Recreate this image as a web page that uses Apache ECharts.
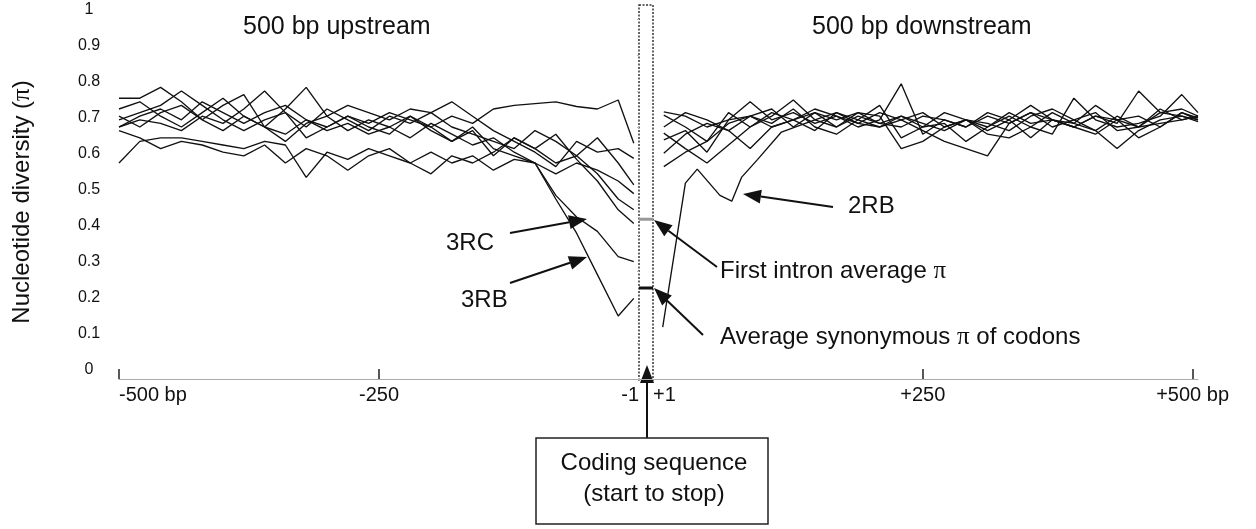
<!DOCTYPE html>
<html>
<head>
<meta charset="utf-8">
<script src="https://cdn.jsdelivr.net/npm/echarts@6/dist/echarts.min.js"></script>
<style>
html, body { margin: 0; padding: 0; background: #fff; }
#main { width: 1256px; height: 529px; }
</style>
</head>
<body>
<div id="main"></div>
<script>
// positions (bp) of the sliding windows
var upX = [-500, -480, -460, -440, -420, -400, -380, -360, -340, -320, -300, -280, -260,
  -240, -220, -200, -180, -160, -140, -120, -100, -80, -60, -40, -20, -5]
var downX = [10, 30, 50, 70, 90, 110, 130, 150, 170, 190, 210, 230, 250, 270, 290, 310,
  330, 350, 370, 390, 410, 430, 450, 470, 490, 505]
var rb2X = [9, 30, 41, 62, 73, 82, 97, 119, 150, 170, 190, 210, 230, 250, 270, 290, 310,
  330, 350, 370, 390, 410, 430, 450, 470, 490, 505]

// upstream pi per gene
var upTop = [0.70, 0.73, 0.75, 0.72, 0.77, 0.74, 0.71, 0.74, 0.76, 0.72, 0.70, 0.73, 0.71,
  0.74, 0.72, 0.70, 0.73, 0.71, 0.75, 0.76, 0.765, 0.77, 0.757, 0.75, 0.775, 0.655]
var up3RC = [0.73, 0.70, 0.74, 0.76, 0.72, 0.69, 0.73, 0.70, 0.68, 0.72, 0.69, 0.71, 0.68,
  0.70, 0.67, 0.71, 0.68, 0.65, 0.67, 0.63, 0.60, 0.51, 0.45, 0.41, 0.34, 0.326]
var up3RB = [0.75, 0.77, 0.73, 0.70, 0.74, 0.78, 0.73, 0.70, 0.66, 0.71, 0.73, 0.69, 0.72,
  0.70, 0.73, 0.69, 0.66, 0.70, 0.64, 0.62, 0.60, 0.50, 0.405, 0.29, 0.175, 0.224]
var upA = [0.60, 0.66, 0.67, 0.67, 0.66, 0.65, 0.64, 0.66, 0.65, 0.56, 0.63, 0.61, 0.64,
  0.62, 0.60, 0.63, 0.60, 0.62, 0.58, 0.61, 0.60, 0.57, 0.60, 0.58, 0.55, 0.515]
var upB = [0.69, 0.67, 0.64, 0.66, 0.65, 0.63, 0.62, 0.65, 0.60, 0.64, 0.62, 0.58, 0.62,
  0.64, 0.60, 0.57, 0.62, 0.60, 0.63, 0.67, 0.64, 0.60, 0.62, 0.57, 0.50, 0.47]
var upC = [0.78, 0.78, 0.81, 0.77, 0.72, 0.76, 0.79, 0.70, 0.75, 0.81, 0.73, 0.76, 0.74,
  0.72, 0.75, 0.74, 0.77, 0.73, 0.69, 0.66, 0.63, 0.59, 0.66, 0.63, 0.64, 0.613]
var upD = [0.72, 0.74, 0.76, 0.80, 0.76, 0.72, 0.69, 0.72, 0.74, 0.70, 0.75, 0.72, 0.69,
  0.73, 0.71, 0.74, 0.70, 0.68, 0.66, 0.64, 0.69, 0.66, 0.62, 0.67, 0.60, 0.539]
var upE = [0.70, 0.72, 0.71, 0.69, 0.73, 0.71, 0.75, 0.80, 0.74, 0.67, 0.70, 0.73, 0.70,
  0.68, 0.73, 0.70, 0.66, 0.69, 0.62, 0.67, 0.64, 0.68, 0.61, 0.55, 0.47, 0.432]

// downstream pi per gene
var downA = [0.742, 0.73, 0.70, 0.72, 0.77, 0.72, 0.74, 0.71, 0.73, 0.70, 0.72, 0.82, 0.68,
  0.72, 0.70, 0.73, 0.71, 0.74, 0.70, 0.72, 0.69, 0.73, 0.70, 0.74, 0.73, 0.72]
var downB = [0.733, 0.70, 0.66, 0.74, 0.70, 0.73, 0.775, 0.72, 0.70, 0.74, 0.71, 0.73, 0.70,
  0.74, 0.72, 0.69, 0.72, 0.76, 0.72, 0.70, 0.73, 0.71, 0.80, 0.74, 0.75, 0.73]
var downC = [0.70, 0.74, 0.72, 0.69, 0.73, 0.71, 0.75, 0.70, 0.68, 0.72, 0.76, 0.67, 0.70,
  0.71, 0.66, 0.70, 0.73, 0.70, 0.68, 0.78, 0.72, 0.70, 0.71, 0.73, 0.79, 0.74]
var downD = [0.683, 0.64, 0.60, 0.65, 0.70, 0.74, 0.72, 0.75, 0.73, 0.71, 0.74, 0.72, 0.74,
  0.70, 0.72, 0.68, 0.67, 0.70, 0.74, 0.71, 0.76, 0.72, 0.67, 0.70, 0.74, 0.72]
var downE = [0.664, 0.69, 0.63, 0.72, 0.73, 0.70, 0.72, 0.74, 0.70, 0.73, 0.71, 0.70, 0.73,
  0.72, 0.70, 0.74, 0.72, 0.67, 0.72, 0.71, 0.69, 0.64, 0.69, 0.72, 0.73, 0.715]
var downF = [0.627, 0.68, 0.71, 0.69, 0.64, 0.70, 0.72, 0.69, 0.74, 0.72, 0.70, 0.72, 0.69,
  0.66, 0.64, 0.62, 0.71, 0.74, 0.72, 0.70, 0.68, 0.72, 0.73, 0.70, 0.74, 0.725]
var downG = [0.59, 0.63, 0.66, 0.71, 0.73, 0.75, 0.70, 0.74, 0.72, 0.74, 0.73, 0.64, 0.66,
  0.70, 0.72, 0.71, 0.69, 0.73, 0.75, 0.72, 0.74, 0.69, 0.70, 0.75, 0.72, 0.73]
var down2RB = [0.144, 0.544, 0.583, 0.51, 0.494, 0.56, 0.61, 0.686, 0.72, 0.74, 0.71, 0.70,
  0.73, 0.71, 0.69, 0.72, 0.70, 0.74, 0.71, 0.72, 0.70, 0.73, 0.72, 0.70, 0.71, 0.72, 0.73]

// averages inside the coding sequence
var intronAvg = 0.444
var synonymousAvg = 0.253

// tick labels
var yTickLabels = ['0', '0.1', '0.2', '0.3', '0.4', '0.5', '0.6', '0.7', '0.8', '0.9', '1']
var upTicks = [-500, -250, 0]
var upTickLabels = ['-500 bp', '-250', '-1']
var downTicks = [0, 250, 500]
var downTickLabels = ['+1', '+250', '+500 bp']

var FONT = '"Liberation Sans", Arial, sans-serif'
var INK = '#111'

function lineSeries(xs, ys, axis) {
  return {
    type: 'line',
    xAxisIndex: axis,
    yAxisIndex: axis,
    data: xs.map(function (x, i) { return [x, ys[i]] }),
    symbol: 'none',
    lineStyle: { color: INK, width: 1.35 },
    silent: true,
    animation: false
  }
}

function barSeries(v, color) {
  return {
    type: 'line',
    xAxisIndex: 2,
    yAxisIndex: 2,
    data: [[0, v], [1, v]],
    symbol: 'none',
    lineStyle: { color: color, width: 3 },
    silent: true,
    animation: false
  }
}

/** arrow = shaft + filled head */
function arrow(x1, y1, x2, y2) {
  var a = Math.atan2(y2 - y1, x2 - x1)
  var L = 18, W = 7
  var bx = x2 - L * Math.cos(a), by = y2 - L * Math.sin(a)
  var px = -Math.sin(a) * W, py = Math.cos(a) * W
  return [
    { type: 'line', shape: { x1: x1, y1: y1, x2: bx, y2: by }, style: { stroke: '#111', lineWidth: 2 } },
    { type: 'polygon', shape: { points: [[x2, y2], [bx + px, by + py], [bx - px, by - py]] }, style: { fill: '#111' } }
  ]
}

function text(x, y, str, align, size, rich) {
  return {
    type: 'text', x: x, y: y,
    style: {
      text: str, fill: '#111', font: (size || 24) + 'px ' + FONT,
      align: align || 'left', verticalAlign: 'middle', rich: rich
    }
  }
}

var piRich = {
  t: { fontFamily: FONT, fontSize: 24, fill: '#111' },
  p: { fontFamily: '"Liberation Serif", serif', fontSize: 25, fill: '#111' }
}

var xAxisCommon = {
  type: 'value',
  axisLine: { lineStyle: { color: '#aaa', width: 1.2 } },
  splitLine: { show: false }
}

var chart = echarts.init(document.getElementById('main'))

var option = {
  animation: false,
  grid: [
    { left: 119, width: 520, top: 19, height: 360 },
    { left: 653, width: 545, top: 19, height: 360 },
    { left: 639, width: 14, top: 19, height: 360 }
  ],
  xAxis: [
    Object.assign({}, xAxisCommon, {
      gridIndex: 0, min: -500, max: 0,
      axisTick: { show: true, inside: true, length: 10, customValues: [-500, -250], lineStyle: { color: '#222', width: 1.5 } },
      axisLabel: {
        customValues: upTicks, margin: 6, fontSize: 20, fontFamily: FONT, color: '#111',
        alignMinLabel: 'left', alignMaxLabel: 'right',
        formatter: function (v) { return upTickLabels[upTicks.indexOf(v)] }
      }
    }),
    Object.assign({}, xAxisCommon, {
      gridIndex: 1, min: 0, max: 505,
      axisTick: { show: true, inside: true, length: 10, customValues: [250, 500], lineStyle: { color: '#222', width: 1.5 } },
      axisLabel: {
        customValues: downTicks, margin: 6, fontSize: 20, fontFamily: FONT, color: '#111',
        alignMinLabel: 'left',
        formatter: function (v) { return downTickLabels[downTicks.indexOf(v)] }
      }
    }),
    Object.assign({}, xAxisCommon, {
      gridIndex: 2, min: 0, max: 1,
      axisTick: { show: false }, axisLabel: { show: false }
    })
  ],
  yAxis: [
    {
      type: 'value', gridIndex: 0, min: 0, max: 1, interval: 0.1, offset: 8,
      axisLine: { show: false },
      axisTick: { show: true, length: 2, lineStyle: { color: '#bbb' } },
      axisLabel: {
        margin: 22, fontSize: 16, fontFamily: FONT, color: '#111',
        align: 'center', verticalAlign: 'bottom', lineHeight: 18,
        formatter: function (v) { return yTickLabels[Math.round(v * 10)] }
      },
      splitLine: { show: false }
    },
    { type: 'value', gridIndex: 1, min: 0, max: 1, show: false, splitLine: { show: false } },
    { type: 'value', gridIndex: 2, min: 0, max: 1, show: false, splitLine: { show: false } }
  ],
  series: [
    lineSeries(upX, upTop, 0),
    lineSeries(upX, up3RC, 0),
    lineSeries(upX, up3RB, 0),
    lineSeries(upX, upA, 0),
    lineSeries(upX, upB, 0),
    lineSeries(upX, upC, 0),
    lineSeries(upX, upD, 0),
    lineSeries(upX, upE, 0),
    lineSeries(downX, downA, 1),
    lineSeries(downX, downB, 1),
    lineSeries(downX, downC, 1),
    lineSeries(downX, downD, 1),
    lineSeries(downX, downE, 1),
    lineSeries(downX, downF, 1),
    lineSeries(downX, downG, 1),
    lineSeries(rb2X, down2RB, 1),
    barSeries(intronAvg, '#999'),
    barSeries(synonymousAvg, '#111')
  ],
  graphic: [].concat(
    // coding sequence strip
    [{ type: 'rect', shape: { x: 639, y: 5, width: 14, height: 375 },
       style: { fill: 'none', stroke: '#333', lineWidth: 1.5, lineDash: [2, 1.5] } }],
    [text(243, 27, '500 bp upstream', 'left', 25), text(812, 27, '500 bp downstream', 'left', 25)],
    [{
      type: 'text', x: 22, y: 202, rotation: Math.PI / 2,
      style: { text: '{t|Nucleotide diversity (}{p|π}{t|)}', rich: piRich, align: 'center', verticalAlign: 'middle' }
    }],
    [text(446, 243, '3RC'), text(461, 300, '3RB'), text(848, 206, '2RB')],
    arrow(510, 233, 587, 219),
    arrow(510, 283, 587, 257),
    arrow(833, 207, 743, 194),
    [text(720, 271, '{t|First intron average }{p|π}', 'left', 24, piRich)],
    arrow(717, 267, 654, 220),
    [text(720, 337, '{t|Average synonymous }{p|π}{t| of codons}', 'left', 24, piRich)],
    arrow(703, 335, 654, 288),
    arrow(647, 438, 647, 365),
    [{ type: 'rect', shape: { x: 536, y: 438, width: 232, height: 86 },
       style: { fill: '#fff', stroke: '#222', lineWidth: 1.5 } }],
    [text(654, 463, 'Coding sequence', 'center', 24), text(654, 494, '(start to stop)', 'center', 24)]
  )
}

chart.setOption(option)
</script>
</body>
</html>
